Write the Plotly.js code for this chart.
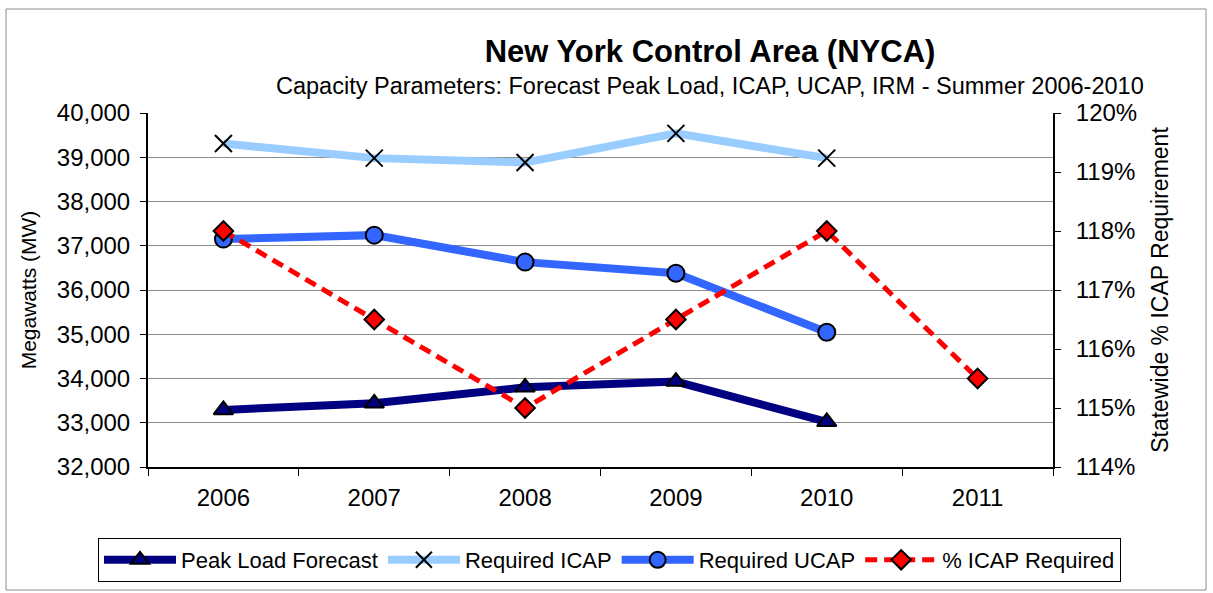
<!DOCTYPE html>
<html>
<head>
<meta charset="utf-8">
<script src="https://cdn.plot.ly/plotly-3.0.1.min.js"></script>
<style>
  html, body { margin: 0; padding: 0; background: #ffffff; }
  #chart { width: 1213px; height: 593px; }
</style>
</head>
<body>
<div id="chart"></div>
<script>
// ---- data ----
const years = ['2006', '2007', '2008', '2009', '2010', '2011'];
const peakLoadYears = ['2006', '2007', '2008', '2009', '2010'];
const peakLoadForecast = [33290, 33440, 33800, 33930, 33020];
const requiredICAP = [39310, 38980, 38880, 39540, 38980];
const requiredUCAP = [37150, 37240, 36630, 36380, 35045];
const icapRequiredPct = [118.0, 116.5, 115.0, 116.5, 118.0, 115.5];

const seriesNames = ['Peak Load Forecast', 'Required ICAP', 'Required UCAP', '% ICAP Required'];
const titleText = 'New York Control Area (NYCA)';
const subtitleText = 'Capacity Parameters: Forecast Peak Load, ICAP, UCAP, IRM - Summer 2006-2010';
const leftAxisTitle = 'Megawatts (MW)';
const rightAxisTitle = 'Statewide % ICAP Requirement';

const FONT = 'Arial, "Liberation Sans", sans-serif';

// plot area in pixels
const W = 1213, H = 593;
const L = 148, R = 1053, T = 113, B = 467;
const pw = R - L, ph = B - T;
const px = x => (x - L) / pw;
const py = y => (B - y) / ph;

const traces = [
  {
    x: peakLoadYears, y: peakLoadForecast, name: seriesNames[0],
    type: 'scatter', mode: 'lines+markers', yaxis: 'y',
    line: { color: '#000080', width: 8 },
    marker: { symbol: 'triangle-up', size: 17, color: '#000080', line: { color: '#000000', width: 2 } }
  },
  {
    x: peakLoadYears, y: requiredICAP, name: seriesNames[1],
    type: 'scatter', mode: 'lines+markers', yaxis: 'y',
    line: { color: '#99CCFF', width: 8 },
    marker: { symbol: 'x-thin', size: 17, color: '#000000', line: { color: '#000000', width: 2 } }
  },
  {
    x: peakLoadYears, y: requiredUCAP, name: seriesNames[2],
    type: 'scatter', mode: 'lines+markers', yaxis: 'y',
    line: { color: '#3366FF', width: 8 },
    marker: { symbol: 'circle', size: 17, color: '#3366FF', line: { color: '#000000', width: 2 } }
  },
  {
    x: years, y: icapRequiredPct, name: seriesNames[3],
    type: 'scatter', mode: 'lines+markers', yaxis: 'y2',
    line: { color: '#FF0000', width: 5, dash: '12px,7px' },
    marker: { symbol: 'diamond', size: 15, color: '#FF0000', line: { color: '#000000', width: 2 } }
  }
];

const layout = {
  width: W, height: H,
  paper_bgcolor: '#ffffff', plot_bgcolor: '#ffffff',
  font: { family: FONT, color: '#000000', size: 22 },
  margin: { l: L, r: W - R, t: T, b: H - B, pad: 0, autoexpand: false },
  showlegend: true,
  title: {
    text: '<b>' + titleText + '</b>',
    font: { family: FONT, size: 31, color: '#000000' },
    x: 710 / W, xanchor: 'center', xref: 'container',
    y: 1 - 51 / H, yanchor: 'middle', yref: 'container'
  },
  annotations: [
    {
      text: subtitleText, showarrow: false,
      xref: 'paper', yref: 'paper', x: px(710), y: py(86),
      xanchor: 'center', yanchor: 'middle',
      font: { family: FONT, size: 23.5, color: '#000000' }
    }
  ],
  xaxis: {
    type: 'category', categoryorder: 'array', categoryarray: years,
    range: [-0.5, 5.5],
    tickson: 'boundaries', ticks: 'outside', ticklen: 7, tickwidth: 1, tickcolor: '#000000',
    ticklabelstandoff: 8,
    showline: true, linecolor: '#000000', linewidth: 2,
    showgrid: false, zeroline: false,
    tickfont: { family: FONT, size: 24, color: '#000000' },
    fixedrange: true
  },
  yaxis: {
    range: [32000, 40000], dtick: 1000, tick0: 32000, tickformat: ',d',
    ticks: 'outside', ticklen: 6, tickwidth: 1, tickcolor: '#000000',
    ticklabelstandoff: 5,
    showline: true, linecolor: '#000000', linewidth: 2,
    showgrid: true, gridcolor: '#8c8c8c', gridwidth: 1, zeroline: false,
    tickfont: { family: FONT, size: 24, color: '#000000' },
    title: { text: leftAxisTitle, font: { family: FONT, size: 21, color: '#000000' }, standoff: 14 },
    fixedrange: true
  },
  yaxis2: {
    overlaying: 'y', side: 'right', anchor: 'x',
    range: [114, 120], dtick: 1, tick0: 114, ticksuffix: '%',
    ticks: 'outside', ticklen: 6, tickwidth: 1, tickcolor: '#000000',
    ticklabelstandoff: 10,
    showline: true, linecolor: '#000000', linewidth: 2,
    showgrid: false, zeroline: false,
    tickfont: { family: FONT, size: 24, color: '#000000' },
    title: { text: rightAxisTitle, font: { family: FONT, size: 23, color: '#000000' }, standoff: 16 },
    fixedrange: true
  },
  legend: {
    orientation: 'h', xref: 'paper', yref: 'paper',
    x: px(98), xanchor: 'left', y: py(538), yanchor: 'top',
    bordercolor: '#000000', borderwidth: 1, bgcolor: '#ffffff',
    font: { family: FONT, size: 22, color: '#000000' },
    itemwidth: 72, traceorder: 'normal', tracegroupgap: 0
  },
  shapes: [
    {
      type: 'rect', xref: 'paper', yref: 'paper', layer: 'below',
      x0: px(6), x1: px(1206), y0: py(590), y1: py(9),
      line: { color: '#8c8c8c', width: 1 }, fillcolor: 'rgba(0,0,0,0)'
    }
  ]
};

Plotly.newPlot('chart', traces, layout, { displayModeBar: false, staticPlot: true });
</script>
</body>
</html>
